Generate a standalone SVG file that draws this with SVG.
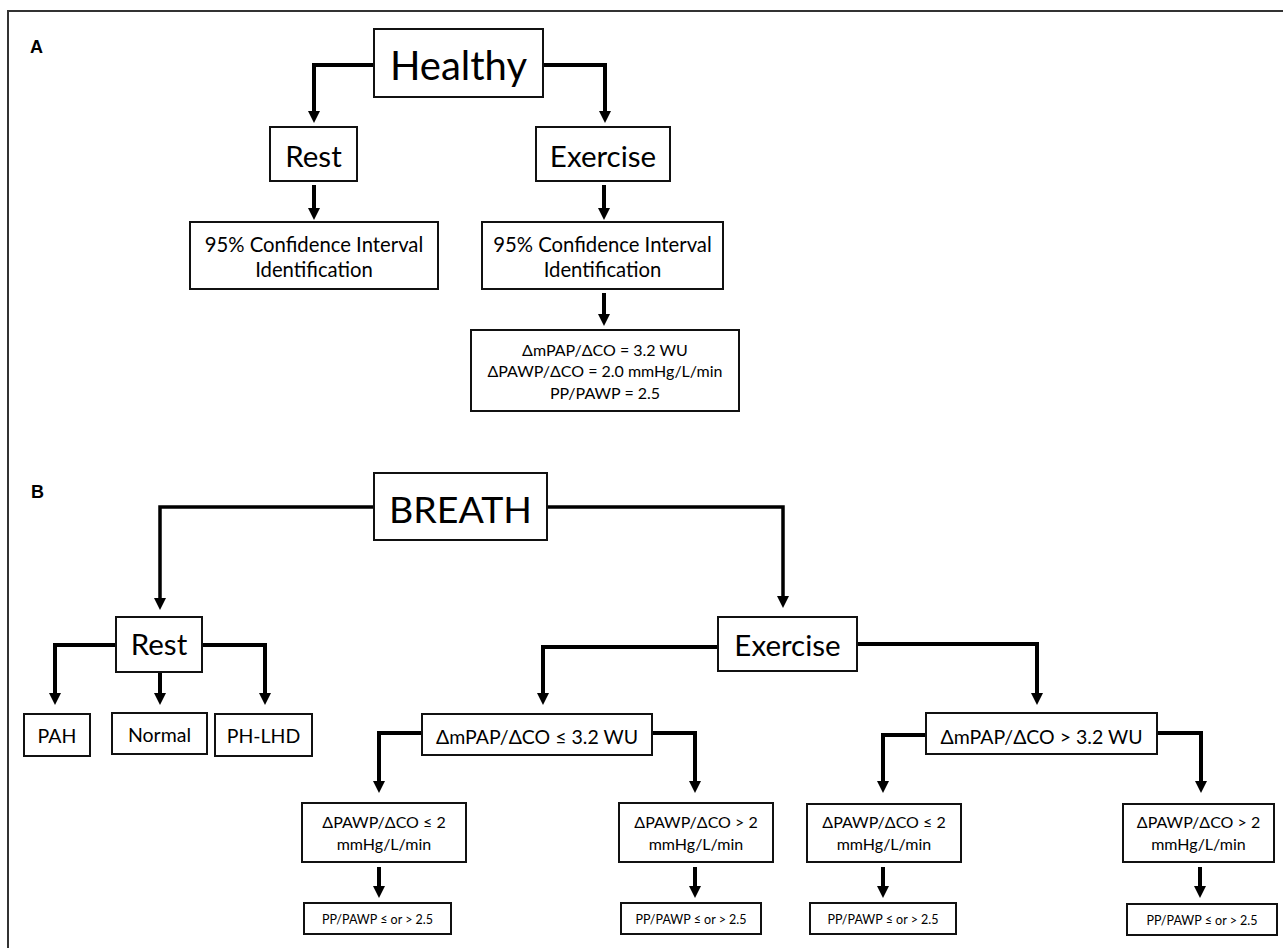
<svg xmlns="http://www.w3.org/2000/svg" width="1283" height="948" viewBox="0 0 1283 948">
<style>
.bx{fill:#fff;stroke:#111;stroke-width:2}
.t{font-family:Lato,"Open Sans","Liberation Sans",sans-serif;fill:#000;text-anchor:middle}
.lbl{font-family:"Liberation Sans",Arial,sans-serif;font-weight:bold;font-size:18px;fill:#000}
.c{fill:none;stroke:#000;stroke-width:4;stroke-linejoin:miter}
.cb{fill:none;stroke:#000;stroke-width:3.5;stroke-linejoin:miter}
</style>
<defs>
<marker id="ah" markerUnits="userSpaceOnUse" markerWidth="12" markerHeight="12" viewBox="0 0 12 12" refX="6" refY="6" orient="auto">
<path d="M0,0 L12,6 L0,12 z" fill="#000"/>
</marker>
</defs>
<rect width="1283" height="948" fill="#fff"/>
<path d="M8,948 V11 H1283" fill="none" stroke="#333" stroke-width="2"/>
<text class="lbl" x="30" y="53">A</text>
<text class="lbl" x="31" y="498">B</text>

<g id="connectors">
<path class="c" d="M374,65 H314 V117" marker-end="url(#ah)"/>
<path class="c" d="M543,65 H605 V117" marker-end="url(#ah)"/>
<path class="c" d="M314,185 V214" marker-end="url(#ah)"/>
<path class="c" d="M604,185 V214" marker-end="url(#ah)"/>
<path class="c" d="M604,293 V320" marker-end="url(#ah)"/>

<path class="cb" d="M374,507 H160 V604" marker-end="url(#ah)"/>
<path class="cb" d="M547,507 H783 V602" marker-end="url(#ah)"/>
<path class="c" d="M116,645 H55 V699" marker-end="url(#ah)"/>
<path class="c" d="M202,645 H265 V699" marker-end="url(#ah)"/>
<path class="c" d="M160,672 V699" marker-end="url(#ah)"/>
<path class="c" d="M718,647 H543 V699" marker-end="url(#ah)"/>
<path class="c" d="M857,644 H1037 V699" marker-end="url(#ah)"/>
<path class="c" d="M422,733 H379 V787" marker-end="url(#ah)"/>
<path class="c" d="M652,733 H695 V787" marker-end="url(#ah)"/>
<path class="c" d="M926,735 H883 V787" marker-end="url(#ah)"/>
<path class="c" d="M1157,733 H1201 V787" marker-end="url(#ah)"/>
<path class="c" d="M379,867 V892" marker-end="url(#ah)"/>
<path class="c" d="M695,867 V892" marker-end="url(#ah)"/>
<path class="c" d="M883,867 V892" marker-end="url(#ah)"/>
<path class="c" d="M1200,867 V892" marker-end="url(#ah)"/>
</g>

<g id="healthy"><rect class="bx" x="374" y="29" width="169" height="68"/><text class="t" x="458.5" y="80" font-size="40">Healthy</text></g>
<g id="restA"><rect class="bx" x="270" y="127" width="87" height="54"/><text class="t" x="313.5" y="167" font-size="29.5">Rest</text></g>
<g id="exerciseA"><rect class="bx" x="536" y="127" width="134" height="54"/><text class="t" x="603" y="167" font-size="29.5">Exercise</text></g>
<g id="ciRest"><rect class="bx" x="190" y="222" width="248" height="67"/><text class="t" x="314" y="252" font-size="20.3">95% Confidence Interval</text><text class="t" x="314" y="277" font-size="20.3">Identification</text></g>
<g id="ciExercise"><rect class="bx" x="482" y="222" width="241" height="67"/><text class="t" x="602.5" y="252" font-size="20.3">95% Confidence Interval</text><text class="t" x="602.5" y="277" font-size="20.3">Identification</text></g>
<g id="metrics"><rect class="bx" x="471" y="330" width="268" height="81"/><text class="t" x="605" y="356" font-size="16">ΔmPAP/ΔCO = 3.2 WU</text><text class="t" x="605" y="377" font-size="16">ΔPAWP/ΔCO = 2.0 mmHg/L/min</text><text class="t" x="605" y="399" font-size="16">PP/PAWP = 2.5</text></g>

<g id="breath"><rect class="bx" x="374" y="473" width="173" height="67"/><text class="t" x="460.5" y="523" font-size="37.5">BREATH</text></g>
<g id="restB"><rect class="bx" x="116" y="617" width="86" height="55"/><text class="t" x="159" y="655" font-size="29.5">Rest</text></g>
<g id="exerciseB"><rect class="bx" x="718" y="617" width="139" height="54"/><text class="t" x="787.5" y="656" font-size="29.5">Exercise</text></g>
<g id="pah"><rect class="bx" x="24" y="714" width="66" height="42"/><text class="t" x="57" y="743" font-size="19.5">PAH</text></g>
<g id="normal"><rect class="bx" x="112" y="713" width="95" height="41"/><text class="t" x="159.5" y="742" font-size="19.5">Normal</text></g>
<g id="phlhd"><rect class="bx" x="215" y="714" width="97" height="42"/><text class="t" x="263.5" y="743" font-size="19.5">PH-LHD</text></g>
<g id="mpapLow"><rect class="bx" x="422" y="714" width="230" height="41"/><text class="t" x="537" y="744" font-size="19.5">ΔmPAP/ΔCO ≤ 3.2 WU</text></g>
<g id="mpapHigh"><rect class="bx" x="926" y="713" width="231" height="41"/><text class="t" x="1041.5" y="744" font-size="19.5">ΔmPAP/ΔCO &gt; 3.2 WU</text></g>
<g id="pawp1"><rect class="bx" x="302" y="803" width="164" height="59"/><text class="t" x="384" y="828" font-size="16">ΔPAWP/ΔCO ≤ 2</text><text class="t" x="384" y="850" font-size="16">mmHg/L/min</text></g>
<g id="pawp2"><rect class="bx" x="619" y="803" width="154" height="59"/><text class="t" x="696" y="828" font-size="16">ΔPAWP/ΔCO &gt; 2</text><text class="t" x="696" y="850" font-size="16">mmHg/L/min</text></g>
<g id="pawp3"><rect class="bx" x="807" y="804" width="154" height="58"/><text class="t" x="884" y="828" font-size="16">ΔPAWP/ΔCO ≤ 2</text><text class="t" x="884" y="850" font-size="16">mmHg/L/min</text></g>
<g id="pawp4"><rect class="bx" x="1123" y="804" width="151" height="58"/><text class="t" x="1198.5" y="828" font-size="16">ΔPAWP/ΔCO &gt; 2</text><text class="t" x="1198.5" y="850" font-size="16">mmHg/L/min</text></g>
<g id="pp1"><rect class="bx" x="304" y="903" width="147" height="31"/><text class="t" x="377.5" y="924" font-size="12.5">PP/PAWP ≤ or &gt; 2.5</text></g>
<g id="pp2"><rect class="bx" x="621" y="903" width="140" height="31"/><text class="t" x="691" y="924" font-size="12.5">PP/PAWP ≤ or &gt; 2.5</text></g>
<g id="pp3"><rect class="bx" x="810" y="903" width="146" height="31"/><text class="t" x="883" y="924" font-size="12.5">PP/PAWP ≤ or &gt; 2.5</text></g>
<g id="pp4"><rect class="bx" x="1127" y="904" width="150" height="31"/><text class="t" x="1202" y="925" font-size="12.5">PP/PAWP ≤ or &gt; 2.5</text></g>
</svg>
